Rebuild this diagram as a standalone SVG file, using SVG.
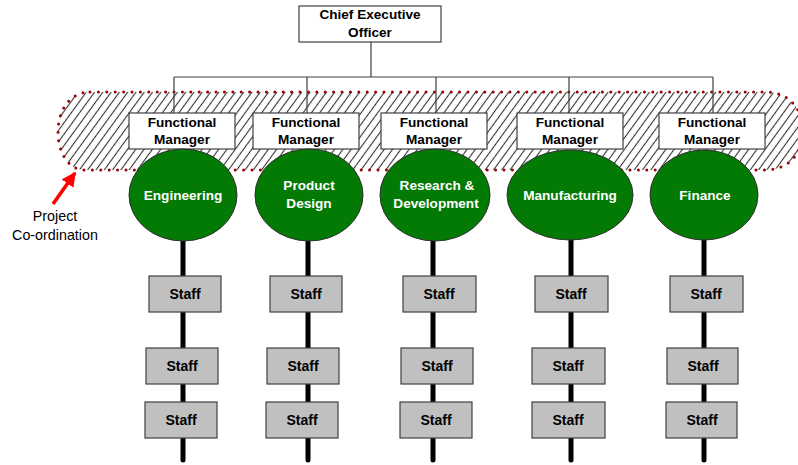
<svg xmlns="http://www.w3.org/2000/svg" width="798" height="465" viewBox="0 0 798 465">
  <style>
    .box { fill: #ffffff; stroke: #404040; stroke-width: 1.2; }
    .staff { fill: #c0c0c0; stroke: #404040; stroke-width: 1.2; }
    .dept { fill: #037a03; stroke: #303030; stroke-width: 1; }
    .lbl { font-family: "Liberation Sans", Arial, sans-serif; font-weight: bold; font-size: 13.6px; text-anchor: middle; fill: #000; }
    .dlbl { font-family: "Liberation Sans", Arial, sans-serif; font-weight: bold; font-size: 13.6px; text-anchor: middle; fill: #ffffff; }
    .slbl { font-family: "Liberation Sans", Arial, sans-serif; font-weight: bold; font-size: 14px; text-anchor: middle; fill: #000; }
    .note { font-family: "Liberation Sans", Arial, sans-serif; font-size: 14.3px; text-anchor: middle; fill: #000; }
    .tree { fill: none; stroke: #404040; stroke-width: 1.2; }
    .spine { fill: none; stroke: #000; stroke-width: 5; stroke-linecap: round; }
  </style>
  <defs>
    <!-- diagonal hatching, about 54 degrees, ~8.3px apart horizontally -->
    <pattern id="hatch" patternUnits="userSpaceOnUse" width="6.7" height="10" patternTransform="rotate(36)">
      <line x1="3.35" y1="0" x2="3.35" y2="10" stroke="#333333" stroke-width="1.1"/>
    </pattern>
    <marker id="redHead" viewBox="0 0 10 10" refX="9" refY="5" markerWidth="4" markerHeight="4" orient="auto" markerUnits="strokeWidth">
      <path d="M0,0 L10,5 L0,10 Z" fill="#ff0000"/>
    </marker>
  </defs>

  <!-- project co-ordination band -->
  <g id="coordination-band">
    <path d="M 90 92 H 765 C 790 92 803 110 803 131 C 803 152 790 170 765 170 H 85 C 68 170 58 152 58 132 C 58 110 70 92 90 92 Z" fill="url(#hatch)"/>
    <path d="M 90 92 H 765 C 790 92 803 110 803 131 C 803 152 790 170 765 170 H 85 C 68 170 58 152 58 132 C 58 110 70 92 90 92 Z" fill="none" stroke="#990000" stroke-width="3" stroke-linecap="round" stroke-dasharray="0 8.4"/>
  </g>

  <!-- connectors -->
  <g id="connectors">
    <path class="tree" d="M371,42 V77 M174,77 H713 M174,77 V113 M307,77 V113 M436,77 V113 M569,77 V113 M713,77 V113"/>
    <path class="spine" d="M183,240 V460 M308,240 V460 M433,240 V460 M571,240 V460 M704,240 V460"/>
    <line x1="53" y1="204" x2="75" y2="173" stroke="#ff0000" stroke-width="3.6" marker-end="url(#redHead)"/>
  </g>

  <g id="ceo">
    <rect class="box" x="299" y="6" width="142" height="36"/>
    <text class="lbl" x="370" y="19">Chief Executive</text>
    <text class="lbl" x="370" y="37">Officer</text>
  </g>

  <!-- functional managers -->
  <g id="fm-1"><rect class="box" x="129" y="113" width="106" height="36"/><text class="lbl" x="182" y="127">Functional</text><text class="lbl" x="182" y="144">Manager</text></g>
  <g id="fm-2"><rect class="box" x="253" y="113" width="106" height="36"/><text class="lbl" x="306" y="127">Functional</text><text class="lbl" x="306" y="144">Manager</text></g>
  <g id="fm-3"><rect class="box" x="381" y="113" width="106" height="36"/><text class="lbl" x="434" y="127">Functional</text><text class="lbl" x="434" y="144">Manager</text></g>
  <g id="fm-4"><rect class="box" x="517" y="113" width="106" height="36"/><text class="lbl" x="570" y="127">Functional</text><text class="lbl" x="570" y="144">Manager</text></g>
  <g id="fm-5"><rect class="box" x="659" y="113" width="106" height="36"/><text class="lbl" x="712" y="127">Functional</text><text class="lbl" x="712" y="144">Manager</text></g>

  <!-- departments -->
  <g id="engineering"><ellipse class="dept" cx="183" cy="195" rx="54" ry="46"/><text class="dlbl" x="183" y="200">Engineering</text></g>
  <g id="product-design"><ellipse class="dept" cx="309" cy="195" rx="54" ry="46"/><text class="dlbl" x="309" y="190">Product</text><text class="dlbl" x="309" y="208">Design</text></g>
  <g id="research-development"><ellipse class="dept" cx="435" cy="195" rx="55" ry="46"/><text class="dlbl" x="437" y="190">Research &amp;</text><text class="dlbl" x="436" y="208">Development</text></g>
  <g id="manufacturing"><ellipse class="dept" cx="570" cy="195" rx="63" ry="45"/><text class="dlbl" x="570" y="200">Manufacturing</text></g>
  <g id="finance"><ellipse class="dept" cx="704" cy="195" rx="54" ry="45"/><text class="dlbl" x="705" y="200">Finance</text></g>

  <!-- staff -->
  <g id="staff-1-1"><rect class="staff" x="149" y="276" width="72" height="36"/><text class="slbl" x="185" y="299">Staff</text></g>
  <g id="staff-1-2"><rect class="staff" x="146" y="348" width="72" height="36"/><text class="slbl" x="182" y="371">Staff</text></g>
  <g id="staff-1-3"><rect class="staff" x="145" y="402" width="72" height="36"/><text class="slbl" x="181" y="425">Staff</text></g>

  <g id="staff-2-1"><rect class="staff" x="270" y="276" width="72" height="36"/><text class="slbl" x="306" y="299">Staff</text></g>
  <g id="staff-2-2"><rect class="staff" x="267" y="348" width="72" height="36"/><text class="slbl" x="303" y="371">Staff</text></g>
  <g id="staff-2-3"><rect class="staff" x="266" y="402" width="72" height="36"/><text class="slbl" x="302" y="425">Staff</text></g>

  <g id="staff-3-1"><rect class="staff" x="403" y="276" width="73" height="36"/><text class="slbl" x="439" y="299">Staff</text></g>
  <g id="staff-3-2"><rect class="staff" x="401" y="348" width="72" height="36"/><text class="slbl" x="437" y="371">Staff</text></g>
  <g id="staff-3-3"><rect class="staff" x="400" y="402" width="72" height="36"/><text class="slbl" x="436" y="425">Staff</text></g>

  <g id="staff-4-1"><rect class="staff" x="535" y="276" width="73" height="36"/><text class="slbl" x="571" y="299">Staff</text></g>
  <g id="staff-4-2"><rect class="staff" x="532" y="348" width="73" height="36"/><text class="slbl" x="568" y="371">Staff</text></g>
  <g id="staff-4-3"><rect class="staff" x="532" y="402" width="73" height="36"/><text class="slbl" x="568" y="425">Staff</text></g>

  <g id="staff-5-1"><rect class="staff" x="670" y="276" width="73" height="36"/><text class="slbl" x="706" y="299">Staff</text></g>
  <g id="staff-5-2"><rect class="staff" x="667" y="348" width="71" height="36"/><text class="slbl" x="703" y="371">Staff</text></g>
  <g id="staff-5-3"><rect class="staff" x="666" y="402" width="71" height="36"/><text class="slbl" x="702" y="425">Staff</text></g>

  <g id="project-note">
    <text class="note" x="55" y="221">Project</text>
    <text class="note" x="55" y="240">Co-ordination</text>
  </g>
</svg>
